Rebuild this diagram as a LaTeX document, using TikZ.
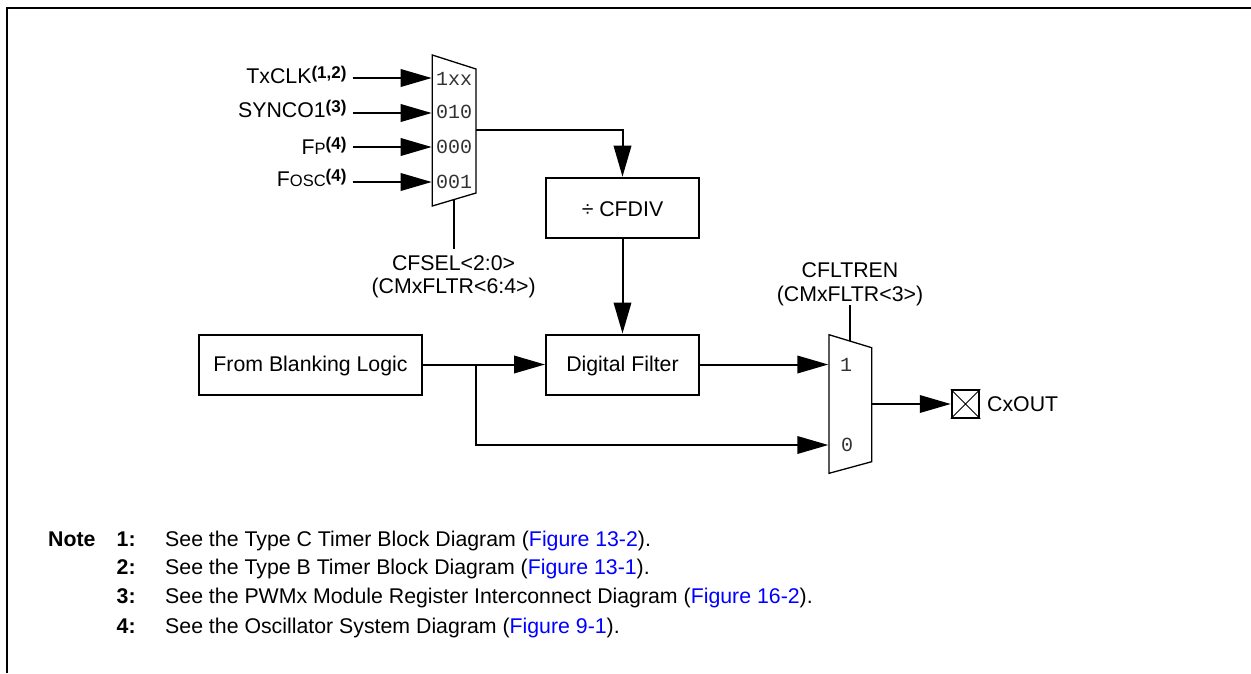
\documentclass[tikz,border=0pt]{standalone}
\usepackage{fontspec}
\setmainfont{Liberation Sans}
\newfontfamily\monof{Liberation Mono}
\usetikzlibrary{arrows.meta}
\definecolor{linkblue}{RGB}{0,0,255}
\definecolor{monogray}{RGB}{50,50,50}
\tikzset{x=1pt,y=-1pt,
 wire/.style={line width=2pt},
 arr/.style={wire,-{Triangle[length=31pt,width=17.5pt,sep=0pt]}},
 box/.style={draw,line width=2pt,fill=white,inner sep=0pt,text height=17pt,text depth=3pt,font=\fontsize{21.3}{23.5}\selectfont},
 lab/.style={inner sep=0pt,font=\fontsize{21.3}{23.5}\selectfont},
 mux/.style={line width=1.3pt,fill=white},
 mono/.style={inner sep=0pt,text=monogray,font=\fontsize{20}{22}\monof},
 note/.style={inner sep=0pt,anchor=base west,font=\fontsize{21.3}{25}\selectfont},
 noteb/.style={note,font=\fontsize{21.3}{25}\bfseries\selectfont}}
\newcommand{\linkc}[1]{\textcolor{linkblue}{#1}}
\newcommand{\supb}[1]{\raisebox{5pt}{\fontsize{17}{17}\bfseries\selectfont #1}}
\newcommand{\smalls}[1]{{\fontsize{16.5}{17}\selectfont #1}}
\begin{document}
\begin{tikzpicture}
\useasboundingbox (0,0) rectangle (1251,673);
\draw[line width=2pt] (7,673) -- (7,7.7) -- (1251,7.7);
% muxes
\draw[mux] (432.3,55) -- (476,69) -- (476,193) -- (432.3,206) -- cycle;
\draw[mux] (829,334.7) -- (871.7,347.7) -- (871.7,461.7) -- (829,473.3) -- cycle;
\coordinate (m1o) at (476,130);
\coordinate (m1s) at (454,200);
\coordinate (m2s) at (850,341);
\coordinate (m2o) at (871.7,404);
\foreach \n/\y/\ty/\t in {a/78/79/1xx,b/113/111.7/010,c/147/147.3/000,d/182/182.3/001}{
 \node[mono] (in\n) at (454,\ty) {\t};
 \coordinate (p\n) at (431.7,\y);
}
\node[mono] (one) at (846,365) {1};
\node[mono] (zero) at (847,445) {0};
\coordinate (p1) at (828.3,364.5);
\coordinate (p0) at (828.3,445);
% labels
\node[lab,anchor=base east] (l1) at (346.7,83) {TxCLK\supb{(1,2)}};
\node[lab,anchor=base east] (l2) at (346.7,117) {SYNCO1\supb{(3)}};
\node[lab,anchor=base east] (l3) at (346.7,154) {F\smalls{P}\supb{(4)}};
\node[lab,anchor=base east] (l4) at (346.7,186.7) {F\smalls{OSC}\supb{(4)}};
\coordinate (s1) at (352.5,78);
\coordinate (s2) at (352.5,113);
\coordinate (s3) at (352.5,147);
\coordinate (s4) at (352.5,182);
\node[lab,align=center] (sel1) at (453.6,276.8) {CFSEL<2:0>\\(CMxFLTR<6:4>)};
\node[lab,align=center] (sel2) at (850,284.3) {CFLTREN\\(CMxFLTR<3>)};
\coordinate (sel1t) at (454,249);
\coordinate (sel2b) at (850,305);
% boxes
\node[box,minimum width=153pt,minimum height=60pt,text depth=0pt] (div) at (622.5,207.7) {÷ CFDIV};
\node[box,minimum width=153pt,minimum height=60pt] (filt) at (622.5,364.5) {Digital Filter};
\node[box,minimum width=223pt,minimum height=60pt] (blank) at (310.5,364.5) {From Blanking Logic};
% pad
\node[draw,line width=2pt,minimum size=27.5pt,inner sep=0pt,outer sep=1pt] (pad) at (965.5,404) {};
\draw[line width=0.9pt] (pad.north west) -- (pad.south east) (pad.north east) -- (pad.south west);
\node[lab,anchor=base west] (cxout) at (987,411) {CxOUT};
% wires
\draw[arr] (s1) -- (pa);
\draw[arr] (s2) -- (pb);
\draw[arr] (s3) -- (pc);
\draw[arr] (s4) -- (pd);
\draw[wire] (m1s) -- (sel1t);
\draw[arr] (m1o) -| (div.north);
\draw[arr] (div.south) -- (filt.north);
\draw[arr] (blank.east) -- (filt.west);
\draw[arr] (filt.east) -- (p1);
\coordinate (j) at (476.3,364.5);
\draw[arr] (j) |- (p0);
\draw[wire] (sel2b) -- (m2s);
\draw[arr] (m2o) -- (pad.west);
% notes
\node[noteb] (n0) at (48,546) {Note};
\node[noteb] (n1) at (116.5,546) {1:};
\node[noteb] (n2) at (116.5,574.5) {2:};
\node[noteb] (n3) at (116.5,603.5) {3:};
\node[noteb] (n4) at (116.5,633) {4:};
\node[note] (t1) at (165,546) {See the Type C Timer Block Diagram (\linkc{Figure 13-2}).};
\node[note] (t2) at (165,574.5) {See the Type B Timer Block Diagram (\linkc{Figure 13-1}).};
\node[note] (t3) at (165,603.5) {See the PWMx Module Register Interconnect Diagram (\linkc{Figure 16-2}).};
\node[note] (t4) at (165,633) {See the Oscillator System Diagram (\linkc{Figure 9-1}).};
\end{tikzpicture}
\end{document}
